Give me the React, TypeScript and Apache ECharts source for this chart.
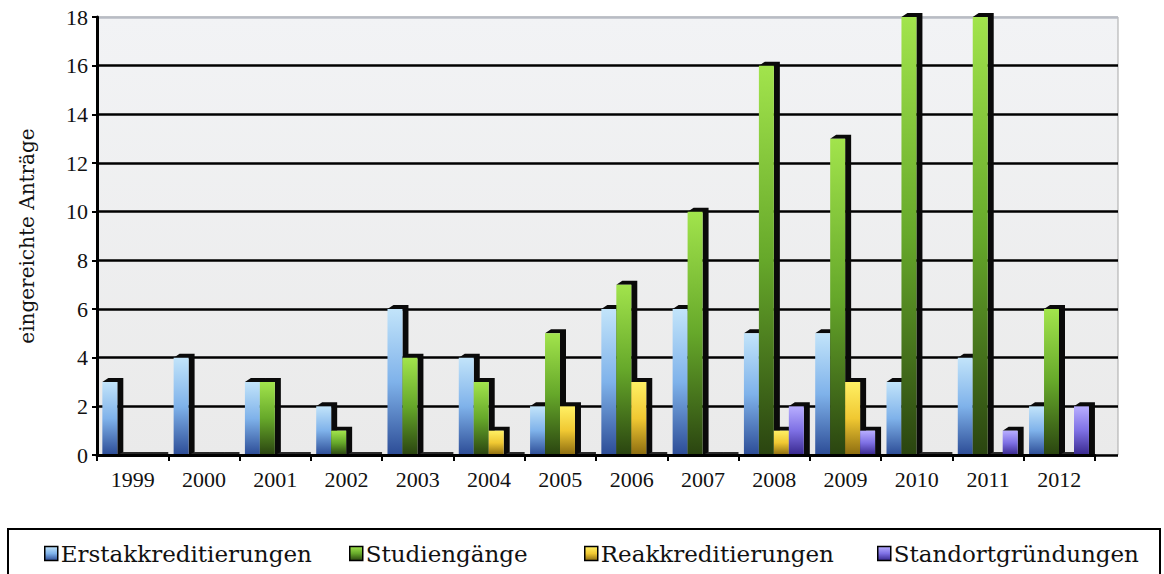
import React, { useEffect, useRef } from "react";
import * as echarts from "echarts";

// Submitted applications per year, by type
const years = ["1999", "2000", "2001", "2002", "2003", "2004", "2005", "2006", "2007", "2008", "2009", "2010", "2011", "2012"];
const erstakkreditierungen = [3, 4, 3, 2, 6, 4, 2, 6, 6, 5, 5, 3, 4, 2];
const studiengaenge = [0, 0, 3, 1, 4, 3, 5, 7, 10, 16, 13, 18, 18, 6];
const reakkreditierungen = [0, 0, 0, 0, 0, 1, 2, 3, 0, 1, 3, 0, 0, 0];
const standortgruendungen = [0, 0, 0, 0, 0, 0, 0, 0, 0, 2, 1, 0, 1, 2];
const seriesNames = ["Erstakkreditierungen", "Studiengänge", "Reakkreditierungen", "Standortgründungen"];
const yMin = 0;
const yMax = 18;
const yStep = 2;

const NUM_FONT = "Liberation Serif";
const TEXT_FONT = "DejaVu Serif";

// left edge of each legend entry inside the legend box
const legendLefts = [39, 344, 579, 872];

const grad = (stops: string[]) =>
  new echarts.graphic.LinearGradient(0, 0, 0, 1, [
    { offset: 0, color: stops[0] },
    { offset: 0.5, color: stops[1] },
    { offset: 1, color: stops[2] },
  ]);

const fills = [
  grad(["#c2e4fa", "#7fb2ea", "#2c4c96"]),
  grad(["#a2e44c", "#66a82a", "#2a4410"]),
  grad(["#fff064", "#f0c832", "#8c6c10"]),
  grad(["#b8aeff", "#7e70e4", "#38288e"]),
];

// Column with a black depth face to the right and on top
const makeRender = (slot: number, fill: any) => (params: any, api: any) => {
  const ci = api.value(0);
  const v = api.value(1);
  const base = api.coord([ci, 0]);
  const top = api.coord([ci, v]);
  const cw = api.size([1, 0])[0];
  const bw = cw * 0.21;
  const x0 = base[0] - cw / 2 + cw * 0.075 + slot * bw;
  const dx = 6;
  const dy = v > 0 ? 4 : 3;
  const yt = top[1];
  const yb = base[1];
  return {
    type: "group",
    children: [
      {
        type: "polygon",
        shape: {
          points: [
            [x0, yt],
            [x0 + dx, yt - dy],
            [x0 + bw + dx, yt - dy],
            [x0 + bw + dx, yb],
            [x0 + bw, yb],
            [x0 + bw, yt],
          ],
        },
        style: { fill: v > 0 ? "#0a0a0a" : "#2a2a2a" },
      },
      {
        type: "rect",
        shape: { x: x0, y: yt, width: bw, height: Math.max(0, yb - yt) },
        style: { fill },
      },
    ],
  };
};

export default function App() {
  const ref = useRef<HTMLDivElement>(null);

  useEffect(() => {
    if (!ref.current) return;
    const chart = echarts.init(ref.current, undefined, { renderer: "svg" });
    const allSeries = [erstakkreditierungen, studiengaenge, reakkreditierungen, standortgruendungen];

    chart.setOption({
      animation: false,
      backgroundColor: "#ffffff",
      textStyle: { fontFamily: NUM_FONT },
      grid: [
        { left: 97, right: 69, top: 17, bottom: 119, containLabel: false },
        {
          left: 97,
          right: 46,
          top: 17,
          bottom: 119,
          show: true,
          backgroundColor: new echarts.graphic.LinearGradient(0, 0, 0, 1, [
            { offset: 0, color: "#f2f3f5" },
            { offset: 1, color: "#eaeaea" },
          ]),
          borderColor: "#a8a8a8",
          borderWidth: 1,
          z: 0,
        },
      ],
      xAxis: [
        {
          type: "category",
          gridIndex: 0,
          data: years,
          boundaryGap: true,
          axisLine: { show: true, lineStyle: { color: "#000", width: 3 } },
          axisTick: { show: true, length: 6, lineStyle: { color: "#000", width: 2 } },
          axisLabel: { color: "#111", fontSize: 22, fontFamily: NUM_FONT, margin: 13 },
          splitLine: { show: false },
          z: 5,
        },
        { type: "category", gridIndex: 1, data: years, show: false },
      ],
      yAxis: [
        {
          type: "value",
          gridIndex: 0,
          min: yMin,
          max: yMax,
          interval: yStep,
          name: "eingereichte Anträge",
          nameLocation: "middle",
          nameGap: 60,
          nameTextStyle: { color: "#111", fontSize: 20, fontFamily: TEXT_FONT },
          axisLine: { show: true, lineStyle: { color: "#000", width: 3 } },
          axisTick: { show: true, length: 5, lineStyle: { color: "#000", width: 2 } },
          axisLabel: { color: "#111", fontSize: 22, fontFamily: NUM_FONT, margin: 9 },
          splitLine: { show: false },
          z: 5,
        },
        {
          type: "value",
          gridIndex: 1,
          min: yMin,
          max: yMax,
          interval: yStep,
          axisLine: { show: false },
          axisTick: { show: false },
          axisLabel: { show: false },
          splitLine: {
            show: true,
            lineStyle: {
              color: ["#000", "#000", "#000", "#000", "#000", "#000", "#000", "#000", "#000", "#b8bcc4"],
              width: 2.5,
            },
          },
        },
      ],
      legend: seriesNames.map((name, i) => ({
        left: legendLefts[i],
        top: 537,
        itemWidth: 13,
        itemHeight: 14,
        icon: "rect",
        itemStyle: { borderColor: "#000", borderWidth: 1.5 },
        textStyle: { color: "#111", fontSize: 23, fontFamily: TEXT_FONT, padding: [0, 0, 0, -2] },
        data: [name],
      })),
      graphic: [
        {
          type: "rect",
          shape: { x: 8, y: 529, width: 1152, height: 60 },
          style: { fill: "none", stroke: "#000", lineWidth: 2 },
          z: 10,
        },
      ],
      series: allSeries.map((vals, i) => ({
        type: "custom",
        name: seriesNames[i],
        xAxisIndex: 0,
        yAxisIndex: 0,
        itemStyle: { color: fills[i] },
        renderItem: makeRender(i, fills[i]),
        encode: { x: 0, y: 1 },
        data: vals.map((v, k) => [k, v]),
        z: 3,
      })),
    });

    return () => chart.dispose();
  }, []);

  return (
    <div
      ref={ref}
      style={{ position: "absolute", left: 0, top: 0, width: 1164, height: 574 }}
    />
  );
}
